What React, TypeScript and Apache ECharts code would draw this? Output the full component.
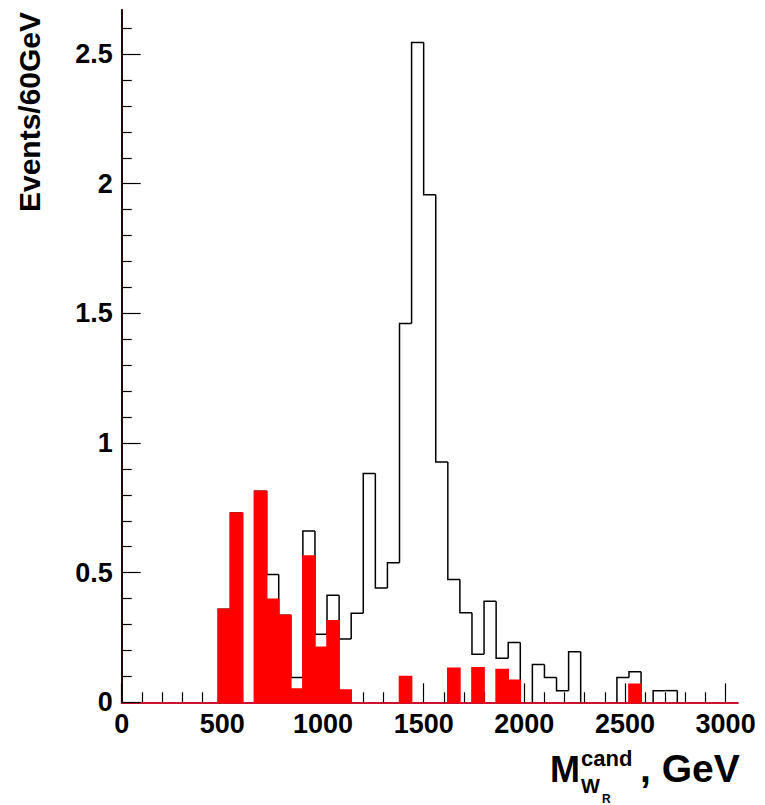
import React, { useEffect, useRef } from "react";
import * as echarts from "echarts";

// ---- data (60 GeV bins from 0 to 3060 GeV) ----
const BIN_WIDTH = 60;
const X_MIN = 0;
const X_MAX = 3060;
const Y_MIN = 0;
const Y_MAX = 2.67;

// open (black outline) histogram: signal + background
const outlineValues = [
  0, 0, 0, 0, 0, 0, 0, 0, 0.359, 0.73,
  0, 0.814, 0.493, 0.336, 0.096, 0.661, 0.262, 0.413, 0.244, 0.343,
  0.882, 0.441, 0.538, 1.461, 2.545, 1.957, 0.927, 0.474, 0.345, 0.185,
  0.39, 0.17, 0.231, 0, 0.146, 0.096, 0.045, 0.195, 0, 0,
  0, 0.096, 0.118, 0, 0.045, 0.045, 0, 0, 0, 0,
  0,
];

// filled red histogram: background
const filledValues = [
  0, 0, 0, 0, 0, 0, 0, 0, 0.359, 0.73,
  0, 0.814, 0.397, 0.336, 0.051, 0.564, 0.212, 0.314, 0.047, 0,
  0, 0, 0, 0.099, 0, 0, 0, 0.131, 0, 0.133,
  0, 0.126, 0.085, 0, 0, 0, 0, 0, 0, 0,
  0, 0, 0.069, 0, 0, 0, 0, 0, 0, 0,
  0,
];

const xMajorTicks = [0, 500, 1000, 1500, 2000, 2500, 3000];
const xMinorTicks = [
  100, 200, 300, 400, 600, 700, 800, 900, 1100, 1200, 1300, 1400, 1600, 1700,
  1800, 1900, 2100, 2200, 2300, 2400, 2600, 2700, 2800, 2900,
];
const yMajorTicks = [0, 0.5, 1, 1.5, 2, 2.5];
const yMinorTicks = [
  0.1, 0.2, 0.3, 0.4, 0.6, 0.7, 0.8, 0.9, 1.1, 1.2, 1.3, 1.4, 1.6, 1.7, 1.8,
  1.9, 2.1, 2.2, 2.3, 2.4, 2.6,
];

const Y_TITLE = "Events/60GeV";
const X_TITLE_MAIN = "M";
const X_TITLE_SUP = "cand";
const X_TITLE_SUB = "W";
const X_TITLE_SUBSUB = "R";
const X_TITLE_UNIT = ", GeV";

const FONT = "Liberation Sans, Arial, Helvetica, sans-serif";

export default function App() {
  const ref = useRef<HTMLDivElement>(null);

  useEffect(() => {
    if (!ref.current) return;
    const chart = echarts.init(ref.current, undefined, { renderer: "svg" });

    const outlineData = outlineValues.map((v, i) => [
      i * BIN_WIDTH,
      (i + 1) * BIN_WIDTH,
      v,
      i > 0 ? outlineValues[i - 1] : 0,
      i === outlineValues.length - 1 ? 1 : 0,
    ]);
    const filledData = filledValues.map((v, i) => [
      i * BIN_WIDTH,
      (i + 1) * BIN_WIDTH,
      v,
    ]);

    const tickLabelStyle = {
      fontFamily: FONT,
      fontWeight: "bold" as const,
      fontSize: 27,
      color: "#000",
      formatter: (v: number) => String(v),
    };

    const option: any = {
      animation: false,
      backgroundColor: "#fff",
      grid: { left: 121.7, right: 27.3, top: 10, bottom: 102.7, containLabel: false },
      xAxis: [
        {
          type: "value",
          position: "bottom",
          min: X_MIN,
          max: X_MAX,
          z: 1,
          axisLine: { show: true, lineStyle: { color: "#cc1133", width: 2 } },
          axisTick: {
            show: true,
            inside: true,
            length: 19,
            customValues: xMajorTicks,
            lineStyle: { color: "#000", width: 1.2 },
          },
          axisLabel: { ...tickLabelStyle, margin: 8, customValues: xMajorTicks },
          splitLine: { show: false },
        },
        {
          type: "value",
          position: "bottom",
          min: X_MIN,
          max: X_MAX,
          z: 1,
          axisLine: { show: false },
          axisTick: {
            show: true,
            inside: true,
            length: 10,
            customValues: xMinorTicks,
            lineStyle: { color: "#000", width: 1.2 },
          },
          axisLabel: { show: false },
          splitLine: { show: false },
        },
        {
          type: "value",
          position: "top",
          min: X_MIN,
          max: X_MAX,
          axisLine: { show: true, lineStyle: { color: "#000", width: 1.5 } },
          axisTick: { show: false },
          axisLabel: { show: false },
          splitLine: { show: false },
        },
      ],
      yAxis: [
        {
          type: "value",
          position: "left",
          min: Y_MIN,
          max: Y_MAX,
          z: 1,
          axisLine: { show: true, lineStyle: { color: "#000", width: 1.5 } },
          axisTick: {
            show: true,
            inside: true,
            length: 19,
            customValues: yMajorTicks,
            lineStyle: { color: "#000", width: 1.2 },
          },
          axisLabel: { ...tickLabelStyle, margin: 9, customValues: yMajorTicks },
          splitLine: { show: false },
        },
        {
          type: "value",
          position: "left",
          min: Y_MIN,
          max: Y_MAX,
          z: 1,
          axisLine: { show: false },
          axisTick: {
            show: true,
            inside: true,
            length: 10,
            customValues: yMinorTicks,
            lineStyle: { color: "#000", width: 1.2 },
          },
          axisLabel: { show: false },
          splitLine: { show: false },
        },
        {
          type: "value",
          position: "right",
          min: Y_MIN,
          max: Y_MAX,
          axisLine: { show: true, lineStyle: { color: "#8b1a1a", width: 2 } },
          axisTick: { show: false },
          axisLabel: { show: false },
          splitLine: { show: false },
        },
      ],
      series: [
        {
          type: "custom",
          name: "outline",
          z: 2,
          xAxisIndex: 0,
          yAxisIndex: 0,
          encode: { x: [0, 1], y: [2, 3] },
          data: outlineData,
          renderItem: (params: any, api: any) => {
            const x0 = api.value(0);
            const x1 = api.value(1);
            const v = api.value(2);
            const prev = api.value(3);
            const last = api.value(4);
            const children: any[] = [];
            const style = { stroke: "#000", lineWidth: 1.5, fill: "none" };
            if (v > 0) {
              const pts = [api.coord([x0, prev]), api.coord([x0, v]), api.coord([x1, v])];
              if (last) pts.push(api.coord([x1, 0]));
              children.push({ type: "polyline", shape: { points: pts }, style });
            } else if (prev > 0) {
              children.push({
                type: "polyline",
                shape: { points: [api.coord([x0, prev]), api.coord([x0, 0])] },
                style,
              });
            }
            return { type: "group", children };
          },
        },
        {
          type: "custom",
          name: "filled",
          z: 3,
          xAxisIndex: 0,
          yAxisIndex: 0,
          encode: { x: [0, 1], y: 2 },
          data: filledData,
          renderItem: (params: any, api: any) => {
            const x0 = api.value(0);
            const x1 = api.value(1);
            const v = api.value(2);
            if (!(v > 0)) return { type: "group", children: [] };
            const p0 = api.coord([x0, v]);
            const p1 = api.coord([x1, 0]);
            return {
              type: "rect",
              shape: { x: p0[0], y: p0[1], width: p1[0] - p0[0], height: p1[1] - p0[1] },
              style: { fill: "#ff0000", stroke: "#ff0000", lineWidth: 1.6 },
            };
          },
        },
      ],
      graphic: [
        {
          type: "text",
          x: 29,
          y: 112,
          rotation: Math.PI / 2,
          style: {
            text: Y_TITLE,
            font: `bold 30px ${FONT}`,
            fill: "#000",
            textAlign: "center",
            textVerticalAlign: "middle",
          },
        },
        {
          type: "text",
          x: 550,
          y: 769,
          style: {
            text: X_TITLE_MAIN,
            font: `bold 36px ${FONT}`,
            fill: "#000",
            textAlign: "left",
            textVerticalAlign: "middle",
          },
        },
        {
          type: "text",
          x: 581,
          y: 758,
          style: {
            text: X_TITLE_SUP,
            font: `bold 22px ${FONT}`,
            fill: "#000",
            textAlign: "left",
            textVerticalAlign: "middle",
          },
        },
        {
          type: "text",
          x: 581,
          y: 786,
          style: {
            text: X_TITLE_SUB,
            font: `bold 20px ${FONT}`,
            fill: "#000",
            textAlign: "left",
            textVerticalAlign: "middle",
          },
        },
        {
          type: "text",
          x: 602,
          y: 799,
          style: {
            text: X_TITLE_SUBSUB,
            font: `bold 12px ${FONT}`,
            fill: "#000",
            textAlign: "left",
            textVerticalAlign: "middle",
          },
        },
        {
          type: "text",
          x: 640,
          y: 768,
          style: {
            text: X_TITLE_UNIT,
            font: `bold 39px ${FONT}`,
            fill: "#000",
            textAlign: "left",
            textVerticalAlign: "middle",
          },
        },
      ],
    };

    chart.setOption(option);
    return () => chart.dispose();
  }, []);

  return (
    <div
      ref={ref}
      style={{ position: "fixed", left: 0, top: 0, width: 765, height: 805, background: "#fff" }}
    />
  );
}
